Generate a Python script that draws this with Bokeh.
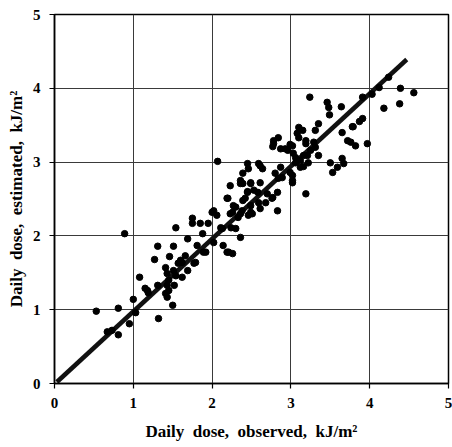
from bokeh.plotting import figure
from bokeh.models import Range1d, FixedTicker
from bokeh.embed import file_html
from bokeh.resources import INLINE

# Observed vs. estimated daily dose (kJ/m2)
observed = [0.53, 0.67, 0.73, 0.81, 0.81, 0.89, 0.95, 1.00, 1.03, 1.08, 1.15, 1.18, 1.19, 1.31, 1.32,
            1.27, 1.31, 1.41, 1.43, 1.43, 1.45, 1.45, 1.46, 1.41, 1.43, 1.50, 1.51, 1.54, 1.51, 1.54,
            1.52, 1.57, 1.60, 1.62, 1.62, 1.66, 1.69, 1.69, 1.75, 1.75, 1.77, 1.79, 1.81, 1.85, 1.88,
            1.89, 1.92, 1.95, 2.00, 2.02, 2.02, 2.06, 2.07, 2.11, 2.13, 2.14, 2.19, 2.21, 2.26, 2.19,
            2.20, 2.23, 2.24, 2.26, 2.27, 2.30, 2.30, 2.33, 2.36, 2.36, 2.38, 2.42, 2.39, 2.46, 2.49,
            2.49, 2.51, 2.23, 2.36, 2.36, 2.39, 2.39, 2.45, 2.45, 2.45, 2.46, 2.49, 2.49, 2.53, 2.58,
            2.59, 2.59, 2.61, 2.61, 2.61, 2.64, 2.68, 2.70, 2.76, 2.77, 2.77, 2.78, 2.78, 2.80, 2.83,
            2.83, 2.84, 2.84, 2.87, 2.87, 2.89, 2.93, 2.96, 2.99, 2.99, 3.02, 3.02, 3.02, 3.02, 3.03,
            3.06, 3.06, 3.08, 3.10, 3.10, 3.12, 3.12, 3.15, 3.16, 3.16, 3.19, 3.19, 3.19, 3.21, 3.22,
            3.24, 3.25, 3.29, 3.31, 3.31, 3.35, 3.35, 3.46, 3.48, 3.49, 3.50, 3.53, 3.59, 3.64, 3.65,
            3.65, 3.67, 3.72, 3.76, 3.78, 3.79, 3.82, 3.87, 3.91, 3.91, 3.97, 4.03, 4.12, 4.18, 4.24,
            4.38, 4.39, 4.56]
estimated = [0.98, 0.70, 0.72, 1.02, 0.66, 2.03, 0.81, 1.14, 0.96, 1.44, 1.29, 1.26, 1.23, 1.33, 0.88,
             1.68, 1.86, 1.22, 1.17, 1.33, 1.26, 1.40, 1.72, 1.57, 1.49, 1.06, 1.86, 2.11, 1.53, 1.46,
             1.33, 1.63, 1.67, 1.44, 1.64, 1.73, 1.53, 1.96, 2.24, 2.17, 1.63, 1.64, 1.87, 2.17, 2.03,
             1.78, 1.78, 2.17, 2.32, 2.34, 1.91, 2.28, 3.01, 2.11, 2.10, 1.87, 1.78, 1.78, 1.76, 2.51,
             2.51, 2.30, 2.11, 2.32, 2.41, 2.10, 2.39, 2.25, 1.98, 2.30, 2.34, 2.51, 2.48, 2.28, 2.32,
             2.41, 2.30, 2.68, 2.71, 2.75, 2.71, 2.85, 2.59, 2.60, 2.98, 2.91, 2.71, 2.72, 2.62, 2.59,
             2.45, 2.98, 2.37, 2.72, 2.95, 2.91, 2.45, 2.57, 2.51, 2.52, 3.21, 3.25, 3.29, 2.85, 2.34,
             2.59, 2.78, 3.33, 2.93, 3.18, 2.79, 3.18, 3.16, 2.86, 3.24, 2.72, 2.75, 2.82, 3.22, 3.12,
             2.99, 3.06, 3.39, 3.33, 3.47, 2.93, 3.02, 3.43, 2.94, 3.09, 2.57, 3.25, 3.29, 3.09, 2.99,
             3.88, 3.16, 3.27, 3.20, 3.43, 3.09, 3.52, 3.81, 3.74, 3.64, 2.99, 2.86, 2.93, 3.75, 3.05,
             3.40, 2.98, 3.29, 3.27, 3.48, 3.48, 3.22, 3.55, 3.59, 3.88, 3.25, 3.92, 4.01, 3.73, 4.15,
             3.79, 4.00, 3.94]

# Fitted line end points
fit_x = [0.03, 4.47]
fit_y = [0.02, 4.39]

ticks = [0, 1, 2, 3, 4, 5]
FONT = "Liberation Serif"
SP = "\u00a0 "  # wide word spacing as in the original

p = figure(width=452, height=447, output_backend="svg", toolbar_location=None,
           x_range=Range1d(0, 5), y_range=Range1d(0, 5),
           min_border_left=54, min_border_right=4, min_border_top=14, min_border_bottom=64,
           background_fill_color="white", border_fill_color="white")

p.outline_line_color = "black"
p.outline_line_width = 1.5

for g in (p.xgrid, p.ygrid):
    g.grid_line_color = "#3a3a3a"
    g.grid_line_width = 1
    g.ticker = FixedTicker(ticks=ticks)

for ax in (p.xaxis, p.yaxis):
    ax.ticker = FixedTicker(ticks=ticks)
    ax.axis_line_color = "black"
    ax.axis_line_width = 1.5
    ax.major_tick_line_color = "black"
    ax.major_tick_line_width = 1.2
    ax.major_tick_in = 0
    ax.major_tick_out = 5
    ax.minor_tick_line_color = None
    ax.major_label_text_font = FONT
    ax.major_label_text_font_style = "bold"
    ax.major_label_text_font_size = "15px"
    ax.major_label_text_color = "black"
    ax.axis_label_text_font = FONT
    ax.axis_label_text_font_style = "bold"
    ax.axis_label_text_font_size = "17px"
    ax.axis_label_text_color = "black"

p.xaxis.axis_label = SP.join(["Daily", "dose,", "observed,", "kJ/m\u00b2"])
p.yaxis.axis_label = SP.join(["Daily", "dose,", "estimated,", "kJ/m\u00b2"])
p.xaxis.major_label_standoff = 9
p.yaxis.major_label_standoff = 9
p.xaxis.axis_label_standoff = 11
p.yaxis.axis_label_standoff = 4

p.line(fit_x, fit_y, line_color="#111111", line_width=4.5)
p.scatter(observed, estimated, marker="circle", size=6.5, fill_color="black", line_color="black")

open("out.html", "w").write(file_html(p, INLINE))
